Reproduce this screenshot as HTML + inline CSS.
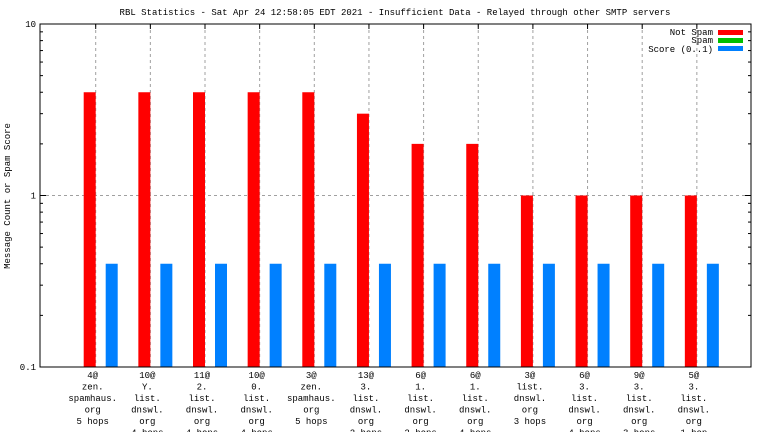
<!DOCTYPE html>
<html><head><meta charset="utf-8"><style>
body{margin:0;background:#fff}
svg text{font-family:"Liberation Mono","DejaVu Sans Mono",monospace;font-size:9px;fill:#000}
</style></head><body>
<svg id="chart" width="768" height="432" xmlns="http://www.w3.org/2000/svg">
<rect width="768" height="432" fill="#fff"/>
<text x="395" y="15" text-anchor="middle">RBL Statistics - Sat Apr 24 12:58:05 EDT 2021 - Insufficient Data - Relayed through other SMTP servers</text>
<text transform="translate(10,196) rotate(-90)" text-anchor="middle">Message Count or Spam Score</text>
<g id="grid"></g><g id="bars"></g><g id="axes"></g><g id="xlabels"></g>
<g>
<text x="713" y="35" text-anchor="end">Not Spam</text>
<rect x="718" y="30" width="25" height="5" fill="#ff0000"/>
<text x="713" y="43" text-anchor="end">Spam</text>
<rect x="718" y="38" width="25" height="5" fill="#00c000"/>
<text x="713" y="52" text-anchor="end">Score (0..1)</text>
<rect x="718" y="46" width="25" height="5" fill="#0080ff"/>
</g>
</svg>
<script>
const categories=[["4@","zen.","spamhaus.","org","5 hops"],["10@","Y.","list.","dnswl.","org","4 hops"],["11@","2.","list.","dnswl.","org","4 hops"],["10@","0.","list.","dnswl.","org","4 hops"],["3@","zen.","spamhaus.","org","5 hops"],["13@","3.","list.","dnswl.","org","2 hops"],["6@","1.","list.","dnswl.","org","2 hops"],["6@","1.","list.","dnswl.","org","4 hops"],["3@","list.","dnswl.","org","3 hops"],["6@","3.","list.","dnswl.","org","4 hops"],["9@","3.","list.","dnswl.","org","3 hops"],["5@","3.","list.","dnswl.","org","1 hop"]];
const notSpam=[4,4,4,4,4,3,2,2,1,1,1,1];
const score=[0.4,0.4,0.4,0.4,0.4,0.4,0.4,0.4,0.4,0.4,0.4,0.4];
const yTicks=[0.1,1,10];
const yTickLabels=["0.1","1","10"];
const NS="http://www.w3.org/2000/svg";
const L=40,R=751,T=24,B=367;
function y(v){return B-(Math.log10(v)+1)/2*(B-T);}
function x(i){return 95.7+i*54.65;}
function mk(tag,attrs,parent){const e=document.createElementNS(NS,tag);for(const k in attrs)e.setAttribute(k,attrs[k]);document.getElementById(parent).appendChild(e);return e;}
categories.forEach((c,i)=>{
 const g=mk("line",{x1:x(i),x2:x(i),y1:T,y2:B,stroke:"#a0a0a0","stroke-dasharray":"3,3"},"grid");
 
 
 const r=mk("rect",{x:x(i)-12,y:y(notSpam[i]),width:12,height:B-y(notSpam[i]),fill:"#ff0000"},"bars");
 
 
 const b=mk("rect",{x:x(i)+10,y:y(score[i]),width:12,height:B-y(score[i]),fill:"#0080ff"},"bars");
 
 
 const t=mk("text",{x:x(i)-3,y:378,"text-anchor":"middle"},"xlabels");
 
 
 c.forEach((line,j)=>{const s=document.createElementNS(NS,"tspan");s.setAttribute("x",x(i)-3);s.setAttribute("dy",j?11.5:0);s.textContent=line;t.appendChild(s);});
 mk("line",{x1:x(i),x2:x(i),y1:T,y2:T+5,stroke:"#000"},"axes");
});
const h=mk("line",{x1:L,x2:R,y1:y(1),y2:y(1),stroke:"#a0a0a0","stroke-dasharray":"3,3"},"grid");


for(let d=0.1;d<10;d*=10){for(let m=2;m<10;m++){const yy=y(d*m);mk("line",{x1:L,x2:L+3,y1:yy,y2:yy,stroke:"#000"},"axes");mk("line",{x1:R,x2:R-3,y1:yy,y2:yy,stroke:"#000"},"axes");}}
yTicks.forEach((v,i)=>{const yy=y(v);mk("line",{x1:L,x2:L+6,y1:yy,y2:yy,stroke:"#000"},"axes");mk("line",{x1:R,x2:R-6,y1:yy,y2:yy,stroke:"#000"},"axes");
 const t=mk("text",{x:L-4,y:yy+3,"text-anchor":"end"},"axes");
 
 
 t.textContent=yTickLabels[i];});
const f=mk("rect",{x:L,y:T,width:R-L,height:B-T,fill:"none",stroke:"#000","stroke-width":1},"axes");


</script>
</body></html>
